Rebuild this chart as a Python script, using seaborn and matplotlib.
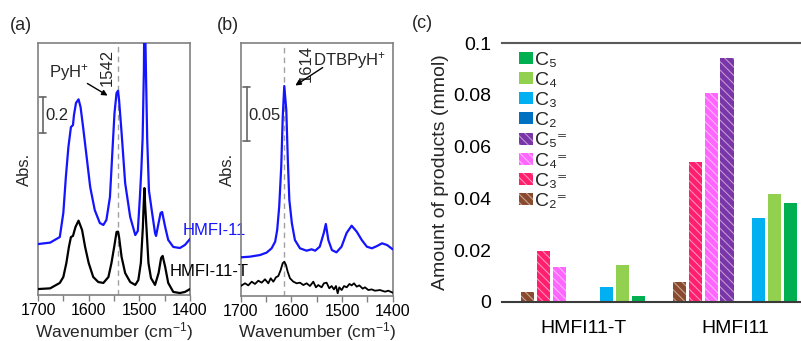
import numpy as np
import pandas as pd
import matplotlib
matplotlib.use("Agg")
import matplotlib.pyplot as plt
from matplotlib.patches import Patch
from matplotlib.ticker import MultipleLocator, FuncFormatter
import seaborn as sns

# ---------------- data ----------------
# (a) pyridine IR spectra
wn_a_blue = [1700, 1676, 1657, 1650, 1645, 1640, 1635, 1631, 1629, 1625, 1620, 1616,
             1611, 1604, 1597, 1588, 1578, 1571, 1565, 1558, 1553, 1549, 1545, 1542,
             1540, 1535, 1528, 1518, 1508, 1503, 1499, 1496, 1493.5, 1491, 1490, 1488.5,
             1487, 1484.5, 1481, 1476, 1469, 1467, 1462, 1458, 1455, 1449, 1443, 1433,
             1420, 1410, 1400]
abs_a_blue = [0.283, 0.291, 0.322, 0.456, 0.656, 0.822, 0.933, 0.944, 1.000, 1.067, 1.087, 1.044,
              0.933, 0.767, 0.600, 0.472, 0.400, 0.389, 0.417, 0.544, 0.806, 1.011, 1.122, 1.135,
              1.083, 0.900, 0.622, 0.433, 0.333, 0.356, 0.539, 0.700, 0.872, 1.250, 1.620, 1.500,
              1.250, 0.870, 0.580, 0.480, 0.344, 0.328, 0.400, 0.456, 0.461, 0.378, 0.306, 0.267,
              0.261, 0.278, 0.311]

wn_a_black = [1700, 1676, 1657, 1650, 1644, 1639, 1635, 1631, 1626, 1620, 1613, 1607,
              1600, 1591, 1581, 1571, 1561, 1555, 1549, 1545, 1542, 1540, 1535, 1528,
              1518, 1508, 1502, 1497, 1493, 1491.5, 1490, 1488.5, 1486, 1482, 1477, 1469,
              1462, 1457, 1454, 1449, 1443, 1433, 1420, 1410, 1400]
abs_a_black = [0.033, 0.037, 0.067, 0.100, 0.178, 0.267, 0.322, 0.328, 0.378, 0.413, 0.361, 0.267,
               0.178, 0.100, 0.072, 0.067, 0.100, 0.178, 0.278, 0.350, 0.352, 0.322, 0.211, 0.122,
               0.072, 0.056, 0.083, 0.178, 0.378, 0.500, 0.594, 0.500, 0.378, 0.178, 0.094, 0.056,
               0.122, 0.206, 0.217, 0.156, 0.067, 0.017, 0.011, 0.017, 0.033]

# (b) DTBPy IR spectra
wn_b_blue = [1700, 1682, 1662, 1649, 1639, 1632, 1628, 1624, 1620, 1617, 1614, 1610,
             1607, 1604, 1599, 1593, 1583, 1570, 1560, 1553, 1544, 1536, 1532, 1527,
             1520, 1511, 1501, 1491, 1481, 1471, 1461, 1451, 1441, 1431, 1421, 1411, 1400]
abs_b_blue = [0.0353, 0.0359, 0.0374, 0.0396, 0.0436, 0.0497, 0.0604, 0.0819, 0.1187, 0.1647,
              0.1929, 0.1708, 0.1248, 0.0880, 0.0666, 0.0512, 0.0436, 0.0414, 0.0427, 0.0414,
              0.0451, 0.0577, 0.0660, 0.0512, 0.0420, 0.0399, 0.0451, 0.0577, 0.0644, 0.0589,
              0.0512, 0.0451, 0.0436, 0.0457, 0.0482, 0.0466, 0.0427]

wn_b_black = [1700, 1691.5, 1685, 1678.3, 1671.8, 1665.2, 1658.6, 1652, 1645.5, 1640.8,
              1635.6, 1630.4, 1625.8, 1621.1, 1617.2, 1613.9, 1610.6, 1607.3, 1602.7, 1596.1,
              1589.5, 1583, 1576.4, 1569.9, 1563.3, 1556.7, 1551.5, 1546.9, 1540.3, 1535.8,
              1530.5, 1525.2, 1520.6, 1516, 1512, 1508.6, 1505.4, 1500.7, 1496, 1490.8,
              1485.5, 1480.9, 1476.4, 1471, 1465.9, 1459.2, 1454.7, 1448.1, 1441.5, 1434.9,
              1425, 1415.2, 1408.7, 1400]
abs_b_black = [0.0089, 0.0114, 0.0095, 0.0129, 0.0108, 0.0138, 0.0120, 0.0151, 0.0114, 0.0160,
               0.0129, 0.0169, 0.0181, 0.0236, 0.0298, 0.0313, 0.0282, 0.0221, 0.0160, 0.0129,
               0.0114, 0.0120, 0.0098, 0.0114, 0.0089, 0.0129, 0.0077, 0.0098, 0.0077, 0.0114,
               0.0120, 0.0068, 0.0089, 0.0058, 0.0089, 0.0022, 0.0077, 0.0052, 0.0089, 0.0077,
               0.0108, 0.0095, 0.0114, 0.0083, 0.0095, 0.0065, 0.0077, 0.0052, 0.0058, 0.0046,
               0.0052, 0.0037, 0.0046, 0.0028]

# (c) product amounts (mmol)
samples = ["HMFI11-T", "HMFI11"]
species = ["C2=", "C3=", "C4=", "C5=", "C2", "C3", "C4", "C5"]
amount_hmfi11t = [0.0040, 0.0196, 0.0134, 0.0, 0.0, 0.0059, 0.0143, 0.0023]
amount_hmfi11 = [0.0079, 0.0542, 0.0807, 0.0941, 0.0, 0.0324, 0.0417, 0.0384]
species_colors = ["#8a4a2e", "#ff1f6e", "#ff66ff", "#7a35a8",
                  "#0070c0", "#00b0f0", "#92d050", "#00b050"]
species_labels = {
    "C2=": "C\u2082\u207c", "C3=": "C\u2083\u207c",
    "C4=": "C\u2084\u207c", "C5=": "C\u2085\u207c",
    "C2": "C\u2082", "C3": "C\u2083",
    "C4": "C\u2084", "C5": "C\u2085",
}

# ---------------- style ----------------
sns.set_theme(style="white")
plt.rcParams["font.family"] = ["Liberation Sans", "DejaVu Sans"]
plt.rcParams["mathtext.fontset"] = "custom"
plt.rcParams["mathtext.rm"] = "Liberation Sans"
plt.rcParams["mathtext.it"] = "Liberation Sans:italic"
plt.rcParams["mathtext.bf"] = "Liberation Sans:bold"
plt.rcParams["hatch.linewidth"] = 0.8

W, H = 801, 341
fig = plt.figure(figsize=(W / 100, H / 100), dpi=100)
fig.patch.set_facecolor("white")


def px_axes(left, top, right, bottom):
    return fig.add_axes([left / W, 1 - bottom / H, (right - left) / W, (bottom - top) / H])


BLUE = "#1414ff"
SPINE = "#808080"


def style_spectrum(ax, ymax):
    ax.set_facecolor("none")
    ax.set_xlim(1700, 1400)
    ax.set_ylim(0, ymax)
    ax.xaxis.set_major_locator(MultipleLocator(100))
    ax.xaxis.set_minor_locator(MultipleLocator(50))
    ax.set_yticks([])
    ax.tick_params(axis="x", which="both", direction="out", length=4, width=1,
                   color=SPINE, bottom=True, labelsize=11.5, pad=2, labelcolor="black")
    for s in ax.spines.values():
        s.set_visible(True)
        s.set_color(SPINE)
        s.set_linewidth(1.2)
    ax.set_xlabel(r"Wavenumber (cm$^{\mathregular{-1}}$)", fontsize=12.5, labelpad=1)
    ax.set_ylabel("Abs.", fontsize=12, labelpad=4)


# ---------------- (a) ----------------
ax_a = px_axes(38, 43, 190, 295)
ax_a.axvline(1542, color="#a0a0a0", lw=1, ls=(0, (4, 3)), zorder=1)
sns.lineplot(x=wn_a_blue, y=abs_a_blue, ax=ax_a, color=BLUE, lw=1.6, sort=False, estimator=None, zorder=3)
sns.lineplot(x=wn_a_black, y=abs_a_black, ax=ax_a, color="black", lw=1.6, sort=False, estimator=None, zorder=3)
style_spectrum(ax_a, 1.4)
# scale bar 0.2
ax_a.plot([1690.7, 1690.7], [0.9, 1.1], color="#666666", lw=1.2)
ax_a.plot([1697.4, 1684.2], [0.9, 0.9], color="#666666", lw=1.2)
ax_a.plot([1697.4, 1684.2], [1.1, 1.1], color="#666666", lw=1.2)
ax_a.text(1686, 1.0, "0.2", fontsize=12, ha="left", va="center")
ax_a.text(1638.8, 1.236, r"PyH$^{+}$", fontsize=12, ha="center", va="center")
ax_a.text(1563.8, 1.262, "1542", fontsize=12, rotation=90, ha="center", va="center")
ax_a.annotate("", xy=(1557.9, 1.10), xytext=(1607.2, 1.183),
              arrowprops=dict(arrowstyle="-|>", color="black", lw=1, mutation_scale=8))
ax_a.text(1413.8, 0.361, "HMFI-11", fontsize=12, color=BLUE, ha="left", va="center",
          clip_on=False, zorder=10)
ax_a.text(1439.5, 0.133, "HMFI-11-T", fontsize=12, color="black", ha="left", va="center",
          clip_on=False, zorder=10)

# ---------------- (b) ----------------
ax_b = px_axes(240.7, 43, 392.7, 295.7)
ax_b.axvline(1614, color="#a0a0a0", lw=1, ls=(0, (4, 3)), zorder=1)
sns.lineplot(x=wn_b_blue, y=abs_b_blue, ax=ax_b, color=BLUE, lw=1.6, sort=False, estimator=None, zorder=3)
sns.lineplot(x=wn_b_black, y=abs_b_black, ax=ax_b, color="black", lw=1.3, sort=False, estimator=None, zorder=3)
style_spectrum(ax_b, 0.2325)
ax_b.plot([1688.2, 1688.2], [0.142, 0.192], color="#666666", lw=1.2)
ax_b.plot([1694.9, 1681.6], [0.142, 0.142], color="#666666", lw=1.2)
ax_b.plot([1694.9, 1681.6], [0.192, 0.192], color="#666666", lw=1.2)
ax_b.text(1685.6, 0.1655, "0.05", fontsize=12, ha="left", va="center")
ax_b.text(1571, 0.2135, "1614", fontsize=12, rotation=90, ha="center", va="center")
ax_b.text(1557, 0.216, r"DTBPyH$^{+}$", fontsize=12, ha="left", va="center")
ax_b.annotate("", xy=(1596.8, 0.192), xytext=(1533.6, 0.2113),
              arrowprops=dict(arrowstyle="-|>", color="black", lw=1, mutation_scale=8))

# ---------------- (c) ----------------
records = []
for s, vals in zip(samples, [amount_hmfi11t, amount_hmfi11]):
    for sp, v in zip(species, vals):
        records.append({"sample": s, "species": sp, "amount": v})
df = pd.DataFrame(records)

ax_c = px_axes(502, 43, 502 + 2.033 * 152, 302)
ax_c.set_facecolor("none")
palette = dict(zip(species, species_colors))
sns.barplot(data=df, x="sample", y="amount", hue="species", hue_order=species,
            order=samples, palette=palette, width=0.84, gap=0.18, ax=ax_c,
            legend=False, saturation=1, errorbar=None, linewidth=0)

olefins = {"C2=", "C3=", "C4=", "C5="}
HATCH = "\\" * 4


def tint(c, f):
    r, g, b = matplotlib.colors.to_rgb(c)
    return (r + (1 - r) * f, g + (1 - g) * f, b + (1 - b) * f)


for sp, cont in zip(species, ax_c.containers):
    for bar in cont:
        if sp in olefins:
            bar.set_hatch(HATCH)
            bar.set_edgecolor(tint(palette[sp], 0.5))
            bar.set_linewidth(0)

ax_c.set_xlim(-0.533, 1.5)
ax_c.set_ylim(0, 0.1)
ax_c.yaxis.set_major_locator(MultipleLocator(0.02))
ax_c.yaxis.set_major_formatter(FuncFormatter(lambda v, p: f"{v:g}"))
ax_c.tick_params(axis="both", length=0, labelsize=14, colors="black")
ax_c.tick_params(axis="y", pad=8)
ax_c.tick_params(axis="x", pad=13)
ax_c.set_xlabel("")
ax_c.set_ylabel("Amount of products (mmol)", fontsize=14, labelpad=3)
for side in ["left", "right"]:
    ax_c.spines[side].set_visible(False)
ax_c.spines["top"].set_visible(True)
ax_c.spines["top"].set_color("#5a5a5a")
ax_c.spines["top"].set_linewidth(1.5)
ax_c.spines["bottom"].set_color("#3a3a3a")
ax_c.spines["bottom"].set_linewidth(1.5)

legend_order = ["C5", "C4", "C3", "C2", "C5=", "C4=", "C3=", "C2="]
handles = []
for sp in legend_order:
    if sp in olefins:
        handles.append(Patch(facecolor=palette[sp], edgecolor=tint(palette[sp], 0.5),
                             hatch=HATCH, linewidth=0, label=species_labels[sp]))
    else:
        handles.append(Patch(facecolor=palette[sp], linewidth=0, label=species_labels[sp]))
ax_c.legend(handles=handles, loc="upper left", bbox_to_anchor=(17 / 309, 1 - 9 / 259),
            frameon=False, fontsize=14, handlelength=0.72, handleheight=0.57,
            handletextpad=0.12, labelspacing=0.16, borderaxespad=0, borderpad=0)

# panel letters
fig.text(21 / W, 1 - 26 / H, "(a)", fontsize=13, ha="center", va="center")
fig.text(228 / W, 1 - 26 / H, "(b)", fontsize=13, ha="center", va="center")
fig.text(422 / W, 1 - 24 / H, "(c)", fontsize=13, ha="center", va="center")

fig.savefig("out.png", dpi=100, facecolor="white")
